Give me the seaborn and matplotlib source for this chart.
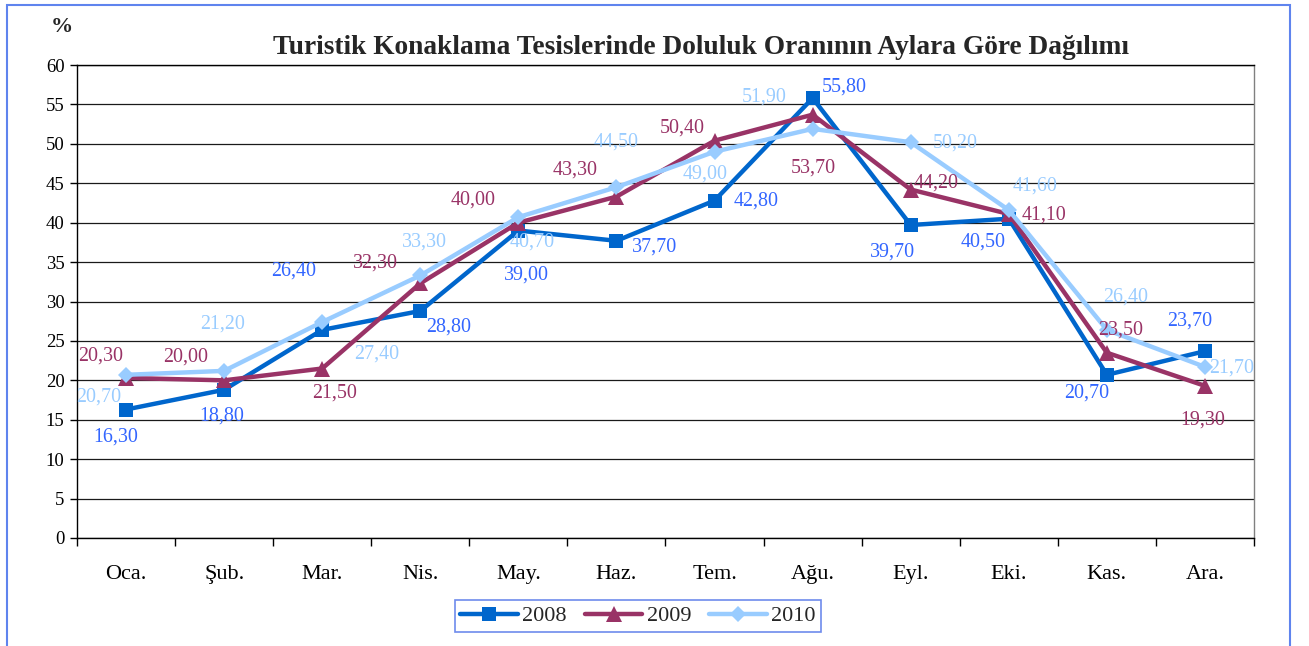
import pandas as pd
import seaborn as sns
import matplotlib.pyplot as plt
from matplotlib.patches import Rectangle

# veriler
aylar = ['Oca.', 'Şub.', 'Mar.', 'Nis.', 'May.', 'Haz.', 'Tem.', 'Ağu.', 'Eyl.', 'Eki.', 'Kas.', 'Ara.']
y2008 = [16.3, 18.8, 26.4, 28.8, 39.0, 37.7, 42.8, 55.8, 39.7, 40.5, 20.7, 23.7]
y2009 = [20.3, 20.0, 21.5, 32.3, 40.0, 43.3, 50.4, 53.7, 44.2, 41.1, 23.5, 19.3]
y2010 = [20.7, 21.2, 27.4, 33.3, 40.7, 44.5, 49.0, 51.9, 50.2, 41.6, 26.4, 21.7]
yillar = ['2008', '2009', '2010']

# etiket kaymalari (piksel)
kayma = {
    '2008': [(-10, -28), (-2, -26), (-29, 59), (28, -16), (8, -44), (38, -6),
             (42, 0), (32, 11), (-18, -27), (-26, -23), (-20, -18), (-15, 30)],
    '2009': [(-25, 22), (-38, 23), (12, -25), (-45, 20), (-45, 23), (-41, 27),
             (-32, 13), (1, -53), (25, 7), (35, -1), (14, 23), (-2, -34)],
    '2010': [(-27, -22), (-2, 47), (54, -32), (4, 33), (14, -25), (0, 45),
             (-9, -22), (-48, 32), (45, -1), (26, 24), (19, 33), (27, -1)],
}

renk = {'2008': '#0066cc', '2009': '#993366', '2010': '#99ccff'}
etiket_renk = {'2008': '#3366ff', '2009': '#993366', '2010': '#99ccff'}
isaret = {'2008': 's', '2009': '^', '2010': 'D'}
boyut = {'2008': 10, '2009': 11, '2010': 8}

df = pd.DataFrame({
    'ay': aylar * 3,
    'x': list(range(12)) * 3,
    'oran': y2008 + y2009 + y2010,
    'yil': [y for y in yillar for _ in aylar],
})

sns.set_theme(style='white')
plt.rcParams['font.family'] = ['Liberation Serif', 'DejaVu Serif']

fig = plt.figure(figsize=(13.09, 6.46), dpi=100)
ax = fig.add_axes([77 / 1309, 1 - 538 / 646, (1254 - 77) / 1309, (538 - 65) / 646])

for yil in yillar:
    d = df[df['yil'] == yil]
    sns.lineplot(data=d, x='x', y='oran', ax=ax, color=renk[yil], lw=3.2,
                 marker=isaret[yil], markersize=boyut[yil], markeredgewidth=0,
                 label=yil, zorder=3)
    for i, v in enumerate(d['oran']):
        ax.annotate(f'{v:.2f}'.replace('.', ','), (i, v), xytext=kayma[yil][i],
                    textcoords='offset pixels', ha='center', va='center',
                    color=etiket_renk[yil], fontsize=14.4, zorder=4)

ax.set_xlim(-0.5, 11.5)
ax.set_ylim(0, 60)
ax.set_yticks(range(0, 61, 5))
ax.set_xticks(range(12))
ax.set_xticklabels(aylar)
ax.set_xticks([i - 0.5 for i in range(13)], minor=True)
ax.tick_params(axis='x', which='major', length=0, pad=19.5, labelsize=16, colors='black')
ax.tick_params(axis='x', which='minor', length=6, width=1, color='black', direction='out', bottom=True)
ax.tick_params(axis='y', length=5, width=1, color='black', direction='out', left=True,
               pad=4, labelsize=13.5, colors='black')
ax.set_xlabel('')
ax.set_ylabel('')
ax.grid(axis='y', color='#1a1a1a', lw=0.9, zorder=0)
for s in ['left', 'bottom', 'top']:
    ax.spines[s].set_color('black')
    ax.spines[s].set_linewidth(1)
ax.spines['right'].set_color('#808080')
ax.spines['right'].set_linewidth(1)

fig.text(701 / 1309, 1 - 48 / 646, 'Turistik Konaklama Tesislerinde Doluluk Oranının Aylara Göre Dağılımı',
         ha='center', va='center', fontsize=19.7, fontweight='bold')
fig.text(62 / 1309, 1 - 27 / 646, '%', ha='center', va='center', fontsize=16, fontweight='bold')

h, l = ax.get_legend_handles_labels()
leg = ax.legend(h, l, loc='center', bbox_to_anchor=(638 / 1309, 1 - 616 / 646),
                bbox_transform=fig.transFigure, ncol=3, fontsize=16, frameon=True,
                fancybox=False, edgecolor='#4a6ee8', handlelength=2.6,
                columnspacing=0.8, handletextpad=0.2, borderpad=0.25)
leg.get_frame().set_linewidth(1.2)

fig.patches.append(Rectangle((7 / 1309, -0.02), (1290 - 7) / 1309, (646 - 5) / 646 + 0.02,
                             transform=fig.transFigure, fill=False, edgecolor='#5f84ee', lw=1.5))

fig.savefig('out.png', dpi=100)
